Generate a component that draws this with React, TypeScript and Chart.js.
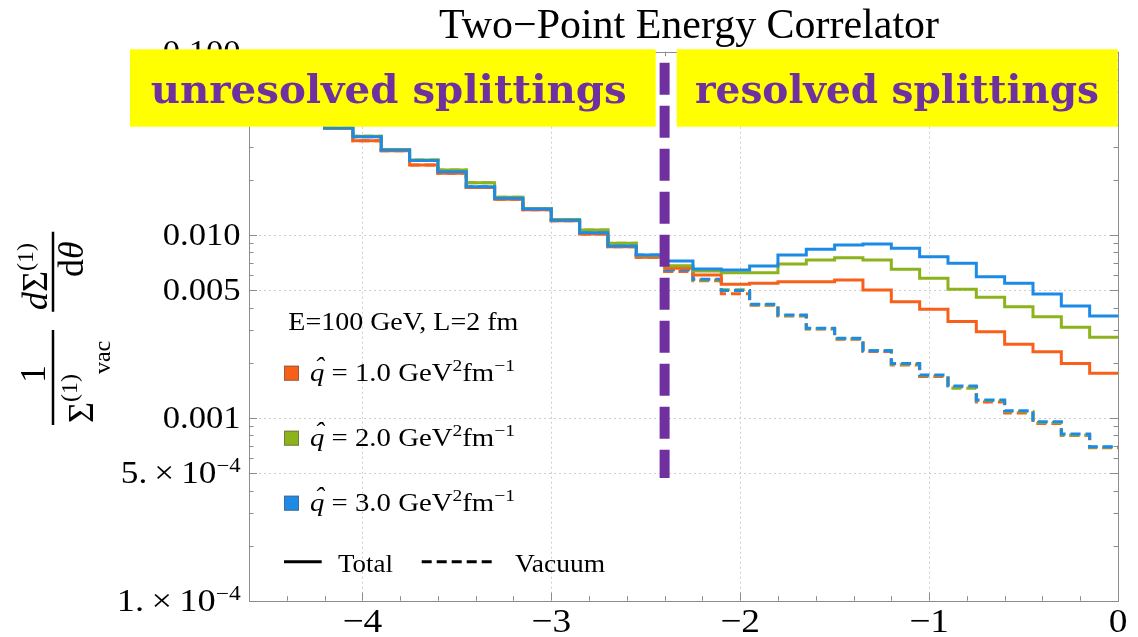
import React, { useEffect, useRef } from "react";
import { Chart, registerables } from "chart.js";

Chart.register(...registerables);

// ---------- data ----------
const binEdges = [-4.65, -4.5, -4.35, -4.2, -4.05, -3.9, -3.75, -3.6, -3.45, -3.3, -3.15, -3.0, -2.85, -2.7, -2.55, -2.4, -2.25, -2.1, -1.95, -1.8, -1.65, -1.5, -1.35, -1.2, -1.05, -0.9, -0.75, -0.6, -0.45, -0.3, -0.15, 0];

const totalOrange = [0.0578, 0.05, 0.0435, 0.038, 0.0326, 0.0288, 0.024, 0.02165, 0.0181, 0.0156, 0.0137, 0.0119, 0.0101, 0.0086, 0.00753, 0.00655, 0.00602, 0.00536, 0.00543, 0.00553, 0.00553, 0.00566, 0.00499, 0.0043, 0.00391, 0.00335, 0.00295, 0.00252, 0.00229, 0.00198, 0.00175];
const totalGreen = [0.058, 0.0505, 0.044, 0.0383, 0.0345, 0.0292, 0.0256, 0.0226, 0.0192, 0.016, 0.0139, 0.0121, 0.0106, 0.00897, 0.0077, 0.00677, 0.00633, 0.0062, 0.0062, 0.00692, 0.00727, 0.00749, 0.00727, 0.00648, 0.00578, 0.00503, 0.00455, 0.00404, 0.00356, 0.00312, 0.00275];
const totalBlue = [0.058, 0.0505, 0.044, 0.0383, 0.0343, 0.029, 0.0254, 0.0221, 0.0183, 0.0158, 0.0138, 0.012, 0.01025, 0.00868, 0.00775, 0.00718, 0.00649, 0.00641, 0.00675, 0.00775, 0.00832, 0.00879, 0.0089, 0.00843, 0.00758, 0.00698, 0.0059, 0.00543, 0.00474, 0.00408, 0.00359];

const vacuumOrange = [0.0578, 0.05, 0.0435, 0.038, 0.0326, 0.0288, 0.024, 0.02165, 0.0181, 0.0156, 0.0137, 0.0119, 0.0101, 0.0086, 0.00753, 0.0063, 0.0056, 0.00475, 0.00412, 0.0036, 0.00305, 0.00268, 0.0023, 0.00194, 0.00168, 0.00147, 0.00122, 0.00106, 0.00093, 0.0008, 0.000685];
const vacuumGreen = [0.058, 0.0505, 0.044, 0.0383, 0.0345, 0.0292, 0.0256, 0.0226, 0.0192, 0.016, 0.0139, 0.0121, 0.0106, 0.00897, 0.0077, 0.00645, 0.00565, 0.005, 0.00414, 0.00362, 0.00306, 0.0027, 0.00233, 0.00196, 0.0017, 0.00145, 0.00124, 0.00108, 0.00094, 0.000805, 0.00069];
const vacuumBlue = [0.058, 0.0505, 0.044, 0.0383, 0.0343, 0.029, 0.0254, 0.0221, 0.0183, 0.0158, 0.0138, 0.012, 0.01025, 0.00868, 0.00775, 0.00641, 0.00571, 0.00495, 0.00417, 0.00364, 0.00308, 0.00272, 0.00232, 0.00198, 0.00171, 0.00149, 0.00125, 0.00109, 0.00095, 0.000815, 0.000694];

const dividerX = [-2.4, -2.4];
const dividerY = [0.0871, 0.000468];

const xMajorTicks = [-4, -3, -2, -1, 0];
const xTickLabels = ["\u22124", "\u22123", "\u22122", "\u22121", "0"];
const xMinorTicks = [-4.6, -4.4, -4.2, -3.8, -3.6, -3.4, -3.2, -2.8, -2.6, -2.4, -2.2, -1.8, -1.6, -1.4, -1.2, -0.8, -0.6, -0.4, -0.2];
const xGridValues = [-4, -3, -2, -1];

const yMajorTicks = [0.1, 0.01, 0.005, 0.001, 0.0005, 0.0001];
const yTickLabels = ["0.100", "0.010", "0.005", "0.001", "5.\u2009\u00d7\u200910", "1.\u2009\u00d7\u200910"];
const yTickExponents = ["", "", "", "", "\u22124", "\u22124"];
const yMinorTicks = [0.0002, 0.0003, 0.0004, 0.0006, 0.0007, 0.0008, 0.0009, 0.002, 0.003, 0.004, 0.006, 0.007, 0.008, 0.009, 0.02, 0.03, 0.04, 0.06, 0.07, 0.08, 0.09];
const yGridValues = [0.01, 0.005, 0.001, 0.0005];

const titleText = "Two\u2212Point Energy Correlator";
const leftBoxText = "unresolved splittings";
const rightBoxText = "resolved splittings";
const legendHeader = "E=100 GeV, L=2 fm";
const qhatValues = ["1.0", "2.0", "3.0"];
const seriesColors = ["#F8601A", "#8CB31B", "#1D8BE6"];
const purple = "#7030A0";

const SERIF = "'Liberation Serif', 'Times New Roman', serif";

type Part = { t: string; font: string; dy?: number; hat?: boolean };

function partsWidth(ctx: CanvasRenderingContext2D, parts: Part[]) {
  let w = 0;
  for (const p of parts) {
    ctx.font = p.font;
    w += ctx.measureText(p.t).width;
  }
  return w;
}

function drawParts(ctx: CanvasRenderingContext2D, parts: Part[], x: number, y: number, sx: number) {
  ctx.save();
  ctx.translate(x, y);
  ctx.scale(sx, 1);
  ctx.textAlign = "left";
  ctx.textBaseline = "alphabetic";
  let cx = 0;
  for (const p of parts) {
    ctx.font = p.font;
    const w = ctx.measureText(p.t).width;
    ctx.fillText(p.t, cx, p.dy || 0);
    if (p.hat) {
      ctx.textAlign = "center";
      ctx.fillText("\u02c6", cx + w / 2 + 1.5, (p.dy || 0) - 6);
      ctx.textAlign = "left";
    }
    cx += w;
  }
  ctx.restore();
}

function fitParts(ctx: CanvasRenderingContext2D, parts: Part[], x: number, y: number, width: number) {
  const w = partsWidth(ctx, parts);
  drawParts(ctx, parts, x, y, width / w);
}

function histData(values: number[]) {
  const pts = values.map((v, i) => ({ x: binEdges[i], y: v }));
  pts.push({ x: binEdges[binEdges.length - 1], y: values[values.length - 1] });
  return pts;
}

const overlayPlugin = {
  id: "overlay",
  beforeDatasetsDraw(chart: any) {
    const { ctx, chartArea: a, scales } = chart;
    const xs = scales.x;
    const ys = scales.y;
    ctx.save();
    ctx.strokeStyle = "#cdcdcd";
    ctx.lineWidth = 1;
    ctx.setLineDash([2, 3]);
    ctx.beginPath();
    for (const v of xGridValues) {
      const px = Math.round(xs.getPixelForValue(v)) + 0.5;
      ctx.moveTo(px, a.top);
      ctx.lineTo(px, a.bottom);
    }
    for (const v of yGridValues) {
      const py = Math.round(ys.getPixelForValue(v)) + 0.5;
      ctx.moveTo(a.left, py);
      ctx.lineTo(a.right, py);
    }
    ctx.stroke();
    ctx.restore();
  },
  afterDraw(chart: any) {
    const { ctx, chartArea: a, scales } = chart;
    const xs = scales.x;
    const ys = scales.y;
    ctx.save();
    // frame
    ctx.strokeStyle = "#8c8c8c";
    ctx.lineWidth = 1;
    ctx.setLineDash([]);
    ctx.strokeRect(Math.round(a.left) + 0.5, Math.round(a.top) + 0.5, Math.round(a.right - a.left), Math.round(a.bottom - a.top));
    ctx.beginPath();
    const tick = (v: number, len: number, axis: string) => {
      if (axis === "x") {
        const px = Math.round(xs.getPixelForValue(v)) + 0.5;
        ctx.moveTo(px, a.bottom);
        ctx.lineTo(px, a.bottom - len);
        ctx.moveTo(px, a.top);
        ctx.lineTo(px, a.top + len);
      } else {
        const py = Math.round(ys.getPixelForValue(v)) + 0.5;
        ctx.moveTo(a.left, py);
        ctx.lineTo(a.left + len, py);
        ctx.moveTo(a.right, py);
        ctx.lineTo(a.right - len, py);
      }
    };
    xMajorTicks.forEach((v) => tick(v, 8, "x"));
    xMinorTicks.forEach((v) => tick(v, 4.5, "x"));
    yMajorTicks.forEach((v) => tick(v, 8, "y"));
    yMinorTicks.forEach((v) => tick(v, 4.5, "y"));
    ctx.stroke();

    ctx.fillStyle = "#000";
    // y tick labels
    const yFont = `31px ${SERIF}`;
    const ySup = `20px ${SERIF}`;
    ctx.font = yFont;
    const sxY = 78 / ctx.measureText("0.010").width;
    yMajorTicks.forEach((v, i) => {
      const py = ys.getPixelForValue(v);
      const parts: Part[] = [{ t: yTickLabels[i], font: yFont }];
      if (yTickExponents[i]) parts.push({ t: yTickExponents[i], font: ySup, dy: -11 });
      const w = partsWidth(ctx, parts) * sxY;
      const x0 = yTickExponents[i] ? Math.min(240.7 - w, 240.7 - w - (i === 5 ? 6 : 2)) : 240.7 - w;
      if (yTickExponents[i]) {
        fitParts(ctx, parts, x0, py + 10.5, 240.7 - x0);
      } else {
        drawParts(ctx, parts, x0, py + 10.5, sxY);
      }
    });
    // x tick labels
    const xFont = `34px ${SERIF}`;
    xMajorTicks.forEach((v, i) => {
      const px = xs.getPixelForValue(v);
      const parts: Part[] = [{ t: xTickLabels[i], font: xFont }];
      const w = partsWidth(ctx, parts) * 1.1;
      drawParts(ctx, parts, px - w / 2, 632, 1.1);
    });

    // y axis title (rotated)
    ctx.save();
    ctx.translate(0, 637);
    ctx.rotate(-Math.PI / 2);
    ctx.strokeStyle = "#000";
    ctx.lineWidth = 2.5;
    ctx.beginPath();
    ctx.moveTo(212, 53);
    ctx.lineTo(307, 53);
    ctx.moveTo(325.3, 53);
    ctx.lineTo(405.3, 53);
    ctx.stroke();
    const big = `36px ${SERIF}`;
    const bigI = `italic 36px ${SERIF}`;
    const small = `24px ${SERIF}`;
    const one: Part[] = [{ t: "1", font: big }];
    drawParts(ctx, one, 263 - partsWidth(ctx, one) / 2, 45, 1);
    drawParts(ctx, [{ t: "\u03a3", font: big }, { t: "(1)", font: small, dy: -16 }, { t: "vac", font: small, dy: 17 }], 214, 93, 1);
    drawParts(ctx, [{ t: "d", font: bigI }, { t: "\u03a3", font: big }, { t: "(1)", font: small, dy: -14 }], 327, 47, 1);
    drawParts(ctx, [{ t: "d", font: big }, { t: "\u03b8", font: bigI }], 360, 83, 1);
    ctx.restore();

    // legend
    ctx.fillStyle = "#000";
    fitParts(ctx, [{ t: legendHeader, font: `25px ${SERIF}` }], 288.3, 330, 230);
    const rowBase = [380.7, 445.7, 510.7];
    rowBase.forEach((b, i) => {
      ctx.fillStyle = seriesColors[i];
      ctx.fillRect(284, b - 15, 15, 15);
      ctx.strokeStyle = "rgba(90,90,90,0.6)";
      ctx.lineWidth = 1;
      ctx.strokeRect(284.5, b - 14.5, 14, 14);
      ctx.fillStyle = "#000";
      fitParts(
        ctx,
        [
          { t: "q", font: `italic 25px ${SERIF}`, hat: true },
          { t: ` = ${qhatValues[i]} GeV`, font: `25px ${SERIF}` },
          { t: "2", font: `17px ${SERIF}`, dy: -10 },
          { t: "fm", font: `25px ${SERIF}` },
          { t: "\u22121", font: `17px ${SERIF}`, dy: -10 },
        ],
        310,
        b,
        205
      );
    });
    ctx.strokeStyle = "#000";
    ctx.lineWidth = 3;
    ctx.setLineDash([]);
    ctx.beginPath();
    ctx.moveTo(284, 561.7);
    ctx.lineTo(321.7, 561.7);
    ctx.stroke();
    ctx.setLineDash([10, 5]);
    ctx.beginPath();
    ctx.moveTo(421.7, 561.7);
    ctx.lineTo(491.7, 561.7);
    ctx.stroke();
    ctx.setLineDash([]);
    fitParts(ctx, [{ t: "Total", font: `25px ${SERIF}` }], 338, 571.7, 55);
    fitParts(ctx, [{ t: "Vacuum", font: `25px ${SERIF}` }], 515, 571.7, 90);

    // title
    fitParts(ctx, [{ t: titleText, font: `42px ${SERIF}` }], 439, 38, 500);

    // yellow boxes
    ctx.fillStyle = "#FFFF00";
    ctx.fillRect(130, 49.3, 525.7, 77.4);
    ctx.fillRect(676.7, 49.3, 441, 77.4);
    ctx.fillStyle = purple;
    const boxFont = `bold 40px 'DejaVu Serif', serif`;
    fitParts(ctx, [{ t: leftBoxText, font: boxFont }], 150.7, 103.3, 476);
    fitParts(ctx, [{ t: rightBoxText, font: boxFont }], 695, 103.3, 404);
    ctx.restore();
  },
};

export default function App() {
  const ref = useRef<HTMLCanvasElement>(null);
  useEffect(() => {
    const canvas = ref.current;
    if (!canvas) return;
    const totalStyle = (color: string) => ({
      borderColor: color,
      backgroundColor: color,
      borderWidth: 3,
      pointRadius: 0,
      stepped: true,
      fill: false,
      clip: 0,
      borderJoinStyle: "miter",
    });
    const vacStyle = (color: string) => ({ ...totalStyle(color), borderDash: [10, 5] });
    const chart = new Chart(canvas, {
      type: "line",
      data: {
        datasets: [
          {
            label: "divider",
            data: dividerX.map((x, i) => ({ x, y: dividerY[i] })),
            borderColor: purple,
            borderWidth: 10,
            borderDash: [32, 11],
            pointRadius: 0,
            borderCapStyle: "butt",
            fill: false,
          },
          { label: "q=3 total", data: histData(totalBlue), ...totalStyle(seriesColors[2]) },
          { label: "q=2 total", data: histData(totalGreen), ...totalStyle(seriesColors[1]) },
          { label: "q=1 total", data: histData(totalOrange), ...totalStyle(seriesColors[0]) },
          { label: "q=3 vacuum", data: histData(vacuumBlue), ...vacStyle(seriesColors[2]) },
          { label: "q=2 vacuum", data: histData(vacuumGreen), ...vacStyle(seriesColors[1]) },
          { label: "q=1 vacuum", data: histData(vacuumOrange), ...vacStyle(seriesColors[0]) },
        ] as any,
      },
      options: {
        responsive: false,
        maintainAspectRatio: false,
        devicePixelRatio: 1,
        animation: false,
        events: [],
        layout: { padding: { top: 51.7, right: 20, left: 0, bottom: 0 } },
        plugins: { legend: { display: false }, tooltip: { enabled: false }, title: { display: false } },
        scales: {
          x: {
            type: "linear",
            min: -4.6,
            max: 0,
            grid: { display: false },
            border: { display: false },
            ticks: { display: false },
            afterFit: (s: any) => {
              s.height = 36.3;
            },
          },
          y: {
            type: "logarithmic",
            min: 0.0001,
            max: 0.1,
            grid: { display: false },
            border: { display: false },
            ticks: { display: false },
            afterFit: (s: any) => {
              s.width = 249;
            },
          },
        },
      } as any,
      plugins: [overlayPlugin],
    });
    return () => chart.destroy();
  }, []);
  return (
    <div style={{ position: "absolute", left: 0, top: 0, width: 1138, height: 637, background: "#fff" }}>
      <canvas ref={ref} width={1138} height={637} style={{ display: "block", width: 1138, height: 637 }} />
    </div>
  );
}
